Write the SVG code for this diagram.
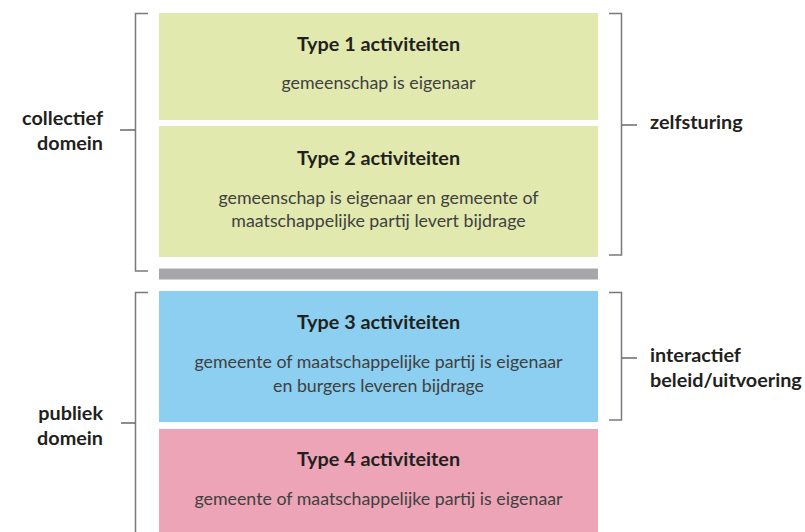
<svg xmlns="http://www.w3.org/2000/svg" width="805" height="532" viewBox="0 0 805 532">
<style>
.t{font-family:Lato,"Open Sans","Liberation Sans",sans-serif;font-weight:bold;font-size:19.8px;fill:#231f20;text-anchor:middle}
.s{font-family:Lato,"Open Sans","Liberation Sans",sans-serif;font-size:17.8px;fill:#404040;text-anchor:middle}
.l{font-family:Lato,"Open Sans","Liberation Sans",sans-serif;font-weight:bold;font-size:19.8px;fill:#231f20}
.br{fill:none;stroke:#7a7a7c;stroke-width:1.5}
.tk{fill:none;stroke:#444;stroke-width:1.2}
</style>
<rect width="805" height="532" fill="#fff"/>
<g id="type1">
<rect x="159" y="13" width="439" height="107" fill="#e1e9ae"/>
<text class="t" x="378.5" y="51">Type 1 activiteiten</text>
<text class="s" x="378.5" y="89">gemeenschap is eigenaar</text>
</g>
<g id="type2">
<rect x="159" y="126" width="439" height="131" fill="#e1e9ae"/>
<text class="t" x="378.5" y="165">Type 2 activiteiten</text>
<text class="s" x="378.5" y="204">gemeenschap is eigenaar en gemeente of</text>
<text class="s" x="378.5" y="227">maatschappelijke partij levert bijdrage</text>
</g>
<g id="divider">
<rect x="159" y="268.5" width="439" height="11" fill="#a7a7ab"/>
</g>
<g id="type3">
<rect x="159" y="291" width="439" height="131" fill="#8ccff0"/>
<text class="t" x="378.5" y="329">Type 3 activiteiten</text>
<text class="s" x="378.5" y="368">gemeente of maatschappelijke partij is eigenaar</text>
<text class="s" x="378.5" y="392">en burgers leveren bijdrage</text>
</g>
<g id="type4">
<rect x="159" y="429" width="439" height="103" fill="#eca4b6"/>
<text class="t" x="378.5" y="466">Type 4 activiteiten</text>
<text class="s" x="378.5" y="505">gemeente of maatschappelijke partij is eigenaar</text>
</g>
<g id="connectors">
<path class="br" d="M148 13.5H135.5V271H148"/>
<path class="tk" d="M120 130H135"/>
<path class="br" d="M148 292.5H135.5V532"/>
<path class="tk" d="M121 423H135"/>
<path class="br" d="M609 13.5H621.5V255H609"/>
<path class="tk" d="M622 125H637"/>
<path class="br" d="M609 292.5H621.5V420H609"/>
<path class="tk" d="M622 358H637"/>
</g>
<g id="collectief">
<text class="l" x="103" y="125" text-anchor="end">collectief</text>
<text class="l" x="103" y="150" text-anchor="end">domein</text>
</g>
<g id="publiek">
<text class="l" x="103" y="420" text-anchor="end">publiek</text>
<text class="l" x="103" y="445" text-anchor="end">domein</text>
</g>
<g id="zelfsturing">
<text class="l" x="650" y="129">zelfsturing</text>
</g>
<g id="interactief">
<text class="l" x="650" y="362">interactief</text>
<text class="l" x="650" y="387">beleid/uitvoering</text>
</g>
</svg>
